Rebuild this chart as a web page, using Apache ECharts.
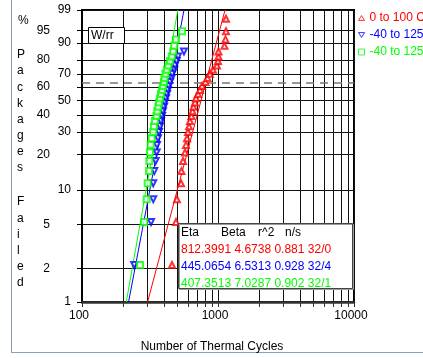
<!DOCTYPE html>
<html><head><meta charset="utf-8">
<script src="https://cdn.jsdelivr.net/npm/echarts@6/dist/echarts.min.js"></script>
<style>html,body{margin:0;padding:0;background:#fff}#c{width:423px;height:358px}</style>
</head><body><div id="c"></div>
<script>
// ---- data (cycles to failure) ----
const rankPct = [2.16,5.25,8.33,11.42,14.51,17.59,20.68,23.77,26.85,29.94,33.02,36.11,39.20,42.28,45.37,48.46,
                 51.54,54.63,57.72,60.80,63.89,66.98,70.06,73.15,76.23,79.32,82.41,85.49,88.58,91.67,94.75,97.84];
const redCycles = [459,491,499,535,539,553,572,582,592,602,612,622,638,649,660,677,
                   689,713,737,763,809,837,873,919,983,1000,1008,1008,1116,1135,1145,1145];
const blueCycles = [242,322,334,334,340,348,354,356,362,368,375,381,388,394,401,408,
                    415,422,429,436,444,457,461,477,483,497,508,562];
const greenCycles = [267,287,299,304,311,313,316,320,325,334,338,344,353,358,364,368,
                     375,381,388,394,401,404,411,420,431,444,457,469,477,491,544];
// fitted Weibull lines: [cycles, percent] end points
const fitRed = [[303.6,1],[1126.3,99]];
const fitBlue = [[220.0,1],[562.2,99]];
const fitGreen = [[211.7,1],[506.2,99]];
const seriesNames = ['0 to 100 C','-40 to 125 C','-40 to 125 C '];
const seriesColors = ['#ff0000','#0000ff','#00ff00'];
// axes
const xGridValues = [100,200,300,400,500,600,700,800,900,1000,2000,3000,4000,5000,6000,7000,8000,9000,10000];
const xLabelValues = [100,1000,10000];
const yTicksA = [99,90,70,50,30,10,1];
const yTicksB = [95,80,60,40,20,5,2];
const refPct = 63.2;
// stats box
const statsHeader = ['Eta','Beta','r^2','n/s'];
const statsRows = [
  ['812.3991','4.6738','0.881','32/0'],
  ['445.0654','6.5313','0.928','32/4'],
  ['407.3513','7.0287','0.902','32/1']
];

const FONT = '"Liberation Sans", Arial, sans-serif';
const W = p => Math.log(-Math.log(1 - p / 100));
const unW = v => 100 * (1 - Math.exp(-Math.exp(v)));

const chart = echarts.init(document.getElementById('c'), null, {renderer:'canvas'});

function yAxisDef(vals, margin, showLine){
  return {
    type:'value', position:'left', min:W(1), max:W(99),
    axisLine:{show:showLine, onZero:false, lineStyle:{color:'#000', width:2}},
    axisTick:{show:true, customValues: vals.map(W), length:5, lineStyle:{color:'#000'}},
    axisLabel:{customValues: vals.map(W), margin: margin, fontSize:12, color:'#000', fontFamily:FONT,
               showMinLabel:true, showMaxLabel:true,
               formatter: v => String(Math.round(unW(v)))},
    splitLine:{show:true, lineStyle:{color:'#111', width:1}}
  };
}

const scatter = (name, cyc, color, symbol, rot) => ({
  type:'scatter', name, symbol, symbolRotate: rot, symbolSize:6, z:5,
  itemStyle:{color, borderWidth:1}, 
  data: cyc.map((t,i) => [t, W(rankPct[i])])
});
const fitLine = (name, pts, color) => ({
  type:'line', name, showSymbol:false, silent:true, z:4,
  lineStyle:{color, width:1}, data: pts.map(p => [p[0], W(p[1])])
});

const header = statsHeader.map((s,i) => ({
  type:'text', z:101, x:[181,221,258,285][i], y:233,
  style:{text:s, fill:'#000', font:'12px '+FONT, verticalAlign:'middle'}
}));
const rows = statsRows.map((r,i) => ({
  type:'text', z:101, x:181, y:250 + i*16.7,
  style:{text:r.join(' '), fill:seriesColors[i], font:'12px '+FONT, verticalAlign:'middle'}
}));
const legendIcons = ['path://M5,0L10,8L0,8Z', 'path://M0,0L10,0L5,8Z', 'path://M0,0L10,0L10,10L0,10Z'];

chart.setOption({
  animation:false,
  backgroundColor:'#fff',
  grid:{left:82, right:69, top:10, bottom:56, show:true, borderColor:'#000', borderWidth:2},
  xAxis:{
    type:'log', logBase:10, min:100, max:10000,
    axisLine:{show:true, onZero:false, lineStyle:{color:'#333', width:2.5}},
    axisTick:{show:true, customValues:xGridValues, length:5, lineStyle:{color:'#333'}},
    axisLabel:{customValues:xLabelValues, fontSize:12, color:'#000', margin:8, fontFamily:FONT,
               showMinLabel:true, showMaxLabel:true, padding:[0,6,0,0],
               formatter: v => String(Math.round(v))},
    splitLine:{show:true, lineStyle:{color:'#111', width:1}},
    name:'Number of Thermal Cycles', nameLocation:'middle', nameGap:39,
    nameTextStyle:{fontSize:12, color:'#000', fontFamily:FONT, padding:[0,12,0,0]}
  },
  yAxis:[ yAxisDef(yTicksA, 11, true), yAxisDef(yTicksB, 32, false) ],
  legend:{
    orient:'vertical', left:358, top:12, padding:0, itemWidth:6, itemHeight:6, itemGap:5,
    textStyle:{fontSize:12, fontFamily:FONT, lineHeight:12},
    data: seriesNames.map((n,i) => ({
      name:n, icon: legendIcons[i],
      itemStyle:{color:'rgba(255,255,255,0)', borderColor:seriesColors[i], borderWidth:1},
      textStyle:{color:seriesColors[i]}
    }))
  },
  series:[
    scatter(seriesNames[0], redCycles, seriesColors[0], 'emptyTriangle', 0),
    scatter(seriesNames[1], blueCycles, seriesColors[1], 'emptyTriangle', 180),
    scatter(seriesNames[2], greenCycles, seriesColors[2], 'emptyRect', 0),
    fitLine('fitRed', fitRed, seriesColors[0]),
    fitLine('fitBlue', fitBlue, seriesColors[1]),
    Object.assign(fitLine('fitGreen', fitGreen, seriesColors[2]), {
      markLine:{silent:true, symbol:'none', label:{show:false},
        lineStyle:{color:'#777', width:1.5, type:[8,6]},
        data:[{yAxis: W(refPct)}]}
    })
  ],
  graphic:[
    {type:'line', z:0, shape:{x1:11.5,y1:0,x2:11.5,y2:352.5}, style:{stroke:'#8aa0b8', lineWidth:1}},
    {type:'line', z:0, shape:{x1:11,y1:352.5,x2:423,y2:352.5}, style:{stroke:'#8aa0b8', lineWidth:1}},
    {type:'text', x:18, y:21, style:{text:'%', fill:'#000', font:'12px '+FONT, verticalAlign:'middle'}},
    {type:'text', x:17, y:47, style:{text:'P\na\nc\nk\na\ng\ne\ns', fill:'#000', font:'12px '+FONT, lineHeight:16.1}},
    {type:'text', x:17, y:194, style:{text:'F\na\ni\nl\ne\nd', fill:'#000', font:'12px '+FONT, lineHeight:16.2}},
    {type:'rect', z:100, shape:{x:88.5,y:27.5,width:36,height:16}, style:{fill:'#fff', stroke:'#000', lineWidth:1}},
    {type:'text', z:101, x:91, y:36, style:{text:'W/rr', fill:'#000', font:'12px '+FONT, verticalAlign:'middle'}},
    {type:'rect', z:100, shape:{x:178.5,y:223.5,width:174,height:65},
      style:{fill:'#fff', stroke:'#444', lineWidth:1, shadowColor:'#999', shadowOffsetX:1, shadowOffsetY:1}},
    ...header, ...rows
  ]
});
</script></body></html>
